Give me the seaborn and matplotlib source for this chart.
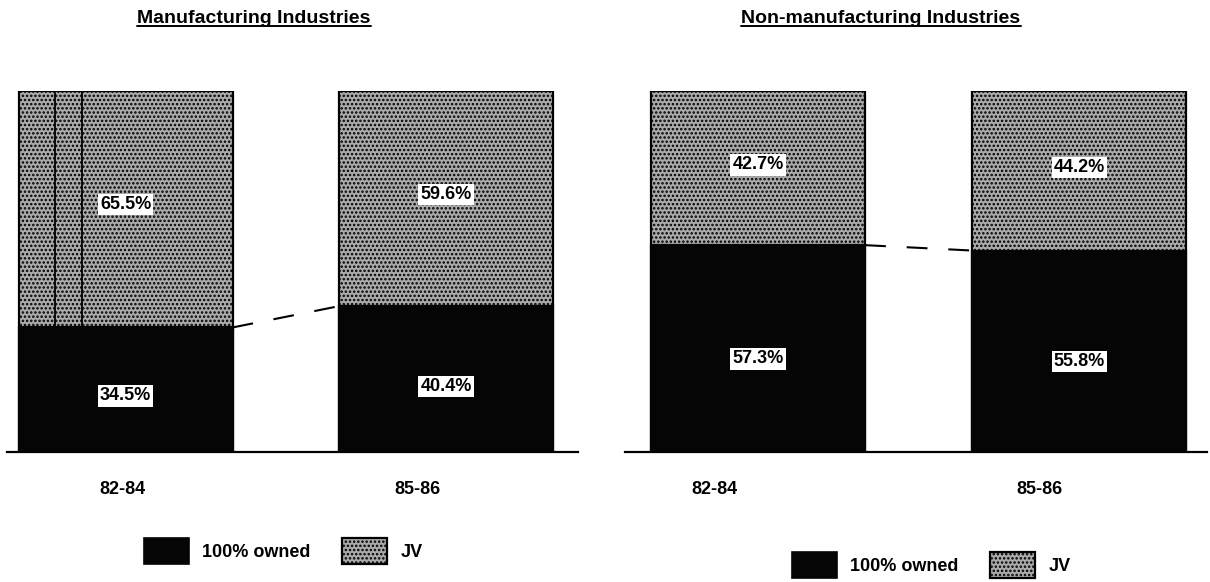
import matplotlib
matplotlib.use("Agg")
import matplotlib.pyplot as plt
from matplotlib.patches import Patch
from matplotlib.lines import Line2D
import seaborn as sns
import pandas as pd

# Share of investments by ownership type, two periods, two sectors
periods = ["82-84", "85-86"]
mfg_owned = [34.5, 40.4]
mfg_jv = [65.5, 59.6]
nonmfg_owned = [57.3, 55.8]
nonmfg_jv = [42.7, 44.2]

panel_titles = ["Manufacturing Industries", "Non-manufacturing Industries"]
legend_labels = ["100% owned", "JV"]

sns.set_theme(style="white")
plt.rcParams["font.family"] = ["Liberation Sans", "DejaVu Sans"]
plt.rcParams["font.weight"] = "bold"
plt.rcParams["text.color"] = "black"
plt.rcParams["hatch.linewidth"] = 1.2

OWNED = "#050505"
JV_FACE = "#ababab"

fig = plt.figure(figsize=(12.1, 5.82), dpi=100)
W, H = 1210, 582

panels = [
    dict(owned=mfg_owned, jv=mfg_jv, rect=[7 / W, 130 / H, 571 / W, 361 / H],
         xlim=(-0.37, 1.412), width=0.668, ticks=[-0.011, 0.91],
         title_x=254 / W, legend_xy=(283 / W, 31 / H),
         scratches=[-0.22, -0.136]),
    dict(owned=nonmfg_owned, jv=nonmfg_jv, rect=[625 / W, 130 / H, 582 / W, 361 / H],
         xlim=(-0.414, 1.397), width=0.666, ticks=[-0.137, 0.877],
         title_x=881 / W, legend_xy=(931 / W, 17 / H),
         scratches=[]),
]

title_texts = []
for p, title in zip(panels, panel_titles):
    ax = fig.add_axes(p["rect"])
    df = pd.DataFrame({"period": periods, "owned": p["owned"], "jv": p["jv"]})
    df["total"] = df["owned"] + df["jv"]

    # full-height bar in JV fill, ownership share overlaid from the baseline
    sns.barplot(data=df, x="period", y="total", ax=ax, color=JV_FACE,
                width=p["width"], errorbar=None, saturation=1,
                edgecolor="black", linewidth=1.6, hatch="....")
    sns.barplot(data=df, x="period", y="owned", ax=ax, color=OWNED,
                width=p["width"], errorbar=None, saturation=1,
                edgecolor=OWNED, linewidth=1.6)

    # faint vertical scan streaks in the upper part of the first bar
    for sx in p["scratches"]:
        ax.vlines(sx, p["owned"][0], p["owned"][0] + p["jv"][0],
                  color="black", lw=1.3)

    half = p["width"] / 2
    ax.plot([0 + half, 1 - half], [p["owned"][0], p["owned"][1]],
            color="black", lw=1.5, linestyle=(0, (10, 10)))

    for i in range(len(periods)):
        o, j = p["owned"][i], p["jv"][i]
        for yv, txt in [(o * 0.45, f"{o:.1f}%"), (o + j * 0.52, f"{j:.1f}%")]:
            ax.text(i, yv, txt, ha="center", va="center", fontsize=13,
                    fontweight="bold", color="black",
                    bbox=dict(boxstyle="square,pad=0.12", fc="white", ec="none"))

    ax.set_xlim(*p["xlim"])
    ax.set_ylim(0, 100)
    ax.set_xlabel("")
    ax.set_ylabel("")
    ax.set_yticks([])
    ax.set_xticks(p["ticks"])
    ax.set_xticklabels(periods, fontsize=13, fontweight="bold", color="black")
    ax.tick_params(axis="x", length=0, pad=21)
    for side in ["left", "top", "right"]:
        ax.spines[side].set_visible(False)
    ax.spines["bottom"].set_color("black")
    ax.spines["bottom"].set_linewidth(1.6)
    ax.set_facecolor("none")

    handles = [Patch(facecolor=OWNED, edgecolor=OWNED, lw=1.2),
               Patch(facecolor=JV_FACE, edgecolor="black", hatch="....", lw=1.6)]
    fig.legend(handles, legend_labels, loc="center", bbox_to_anchor=p["legend_xy"],
               bbox_transform=fig.transFigure, ncol=2, frameon=False,
               prop=dict(size=13, weight="bold"), labelcolor="black",
               handlelength=2.5, handleheight=1.78, handletextpad=0.72,
               columnspacing=1.78, borderpad=0, borderaxespad=0)

    t = fig.text(p["title_x"], (582 - 23) / H, title, ha="center", va="baseline",
                 fontsize=14, fontweight="bold", color="black")
    title_texts.append(t)

# underline the panel titles
fig.canvas.draw()
renderer = fig.canvas.get_renderer()
for t in title_texts:
    bb = t.get_window_extent(renderer)
    y = (582 - 26) / H
    fig.add_artist(Line2D([bb.x0 / W, bb.x1 / W], [y, y], transform=fig.transFigure,
                          color="black", lw=1.4))

fig.savefig("out.png", dpi=100, facecolor="white")
